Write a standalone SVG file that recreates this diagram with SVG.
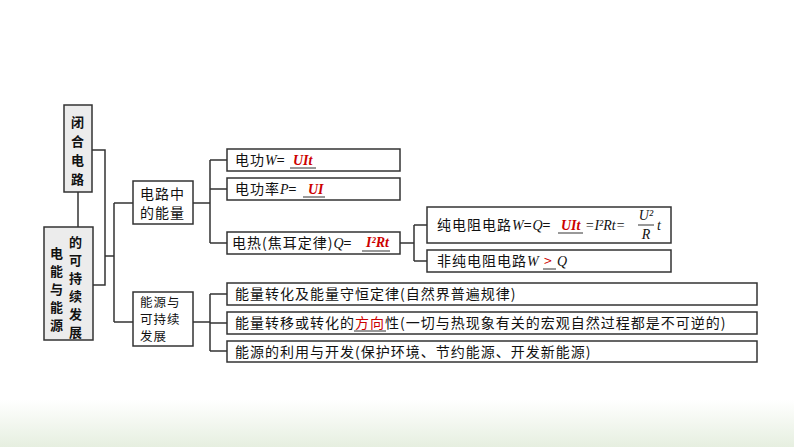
<svg xmlns="http://www.w3.org/2000/svg" width="794" height="447" viewBox="0 0 794 447">
<style>
.b{fill:#fff;stroke:#333;stroke-width:1.5}
.g{fill:#ececec;stroke:#333;stroke-width:1.5}
.l{fill:none;stroke:#333;stroke-width:1.5}
text{font-family:"Noto Sans CJK SC","Liberation Serif",serif;font-size:14px;fill:#111;letter-spacing:1px}
.v{font-size:13px;font-weight:bold}
.s{font-size:12.5px}
.m{font-family:"Liberation Serif",serif;font-style:italic;letter-spacing:0}
.r{fill:#c00;font-family:"Liberation Serif",serif;font-style:italic;font-weight:bold;letter-spacing:0}
.rc{fill:#c00}
.u{stroke:#333;stroke-width:1}
</style>
<defs><linearGradient id="bg" x1="0" y1="0" x2="0" y2="1"><stop offset="0" stop-color="#fff"/><stop offset="1" stop-color="#e6efe0"/></linearGradient></defs>
<rect x="0" y="400" width="794" height="47" fill="url(#bg)"/>
<g id="connectors">
<path class="l" d="M78 192V227M92 150H105V285H93M105 256H114M114 203V322M114 203H133M114 322H133"/>
<path class="l" d="M193 203H210M210 160V243M210 160H227M210 189H227M210 243H227"/>
<path class="l" d="M400 243H414M414 225V261M414 225H427M414 261H427"/>
<path class="l" d="M193 322H210M210 294V351M210 294H227M210 323H227M210 351H227"/>
</g>
<g id="n1"><rect class="g" x="64" y="105" width="28" height="87"/>
<text class="v" x="78" y="127" text-anchor="middle">闭</text><text class="v" x="78" y="146" text-anchor="middle">合</text><text class="v" x="78" y="165" text-anchor="middle">电</text><text class="v" x="78" y="184" text-anchor="middle">路</text></g>
<g id="n2"><rect class="g" x="44" y="227" width="49" height="113"/>
<text class="v" x="57" y="258" text-anchor="middle">电</text><text class="v" x="57" y="276" text-anchor="middle">能</text><text class="v" x="57" y="294" text-anchor="middle">与</text><text class="v" x="57" y="312" text-anchor="middle">能</text><text class="v" x="57" y="330" text-anchor="middle">源</text>
<text class="v" x="76" y="247" text-anchor="middle">的</text><text class="v" x="76" y="265" text-anchor="middle">可</text><text class="v" x="76" y="283" text-anchor="middle">持</text><text class="v" x="76" y="301" text-anchor="middle">续</text><text class="v" x="76" y="319" text-anchor="middle">发</text><text class="v" x="76" y="337" text-anchor="middle">展</text></g>
<g id="n3"><rect class="b" x="133" y="181" width="60" height="43"/><text x="140" y="199">电路中</text><text x="140" y="218">的能量</text></g>
<g id="n4"><rect class="b" x="133" y="292" width="60" height="54"/><text class="s" x="140" y="307">能源与</text><text class="s" x="140" y="324">可持续</text><text class="s" x="140" y="341">发展</text></g>
<g id="n5"><rect class="b" x="227" y="149" width="173" height="22"/><text x="235" y="165">电功<tspan class="m">W</tspan>=</text><text class="r" x="293" y="165">UIt</text><line class="u" x1="290" y1="168" x2="316" y2="168"/></g>
<g id="n6"><rect class="b" x="227" y="178" width="173" height="22"/><text x="235" y="194">电功率<tspan class="m">P</tspan>=</text><text class="r" x="308" y="194">UI</text><line class="u" x1="303" y1="197" x2="325" y2="197"/></g>
<g id="n7"><rect class="b" x="227" y="232" width="173" height="22"/><text x="232" y="248">电热(焦耳定律)<tspan class="m">Q</tspan>=</text><text class="r" x="366" y="247" font-size="11">I²Rt</text><line class="u" x1="362" y1="251" x2="390" y2="251"/></g>
<g id="n8"><rect class="b" x="427" y="207" width="244" height="36"/><text x="437" y="230">纯电阻电路<tspan class="m">W</tspan>=<tspan class="m">Q</tspan>=</text>
<text class="r" x="561" y="230" font-weight="normal">UIt</text><line class="u" x1="558" y1="233" x2="583" y2="233"/>
<text class="m" x="585" y="230">=I²Rt=</text>
<text class="m" x="646" y="220" text-anchor="middle" font-size="12">U²</text><line class="u" x1="638" y1="225" x2="654" y2="225"/><text class="m" x="646" y="239" text-anchor="middle" font-size="12">R</text><text class="m" x="657" y="230">t</text></g>
<g id="n9"><rect class="b" x="427" y="250" width="244" height="22"/><text x="437" y="266">非纯电阻电路<tspan class="m">W</tspan></text><text class="rc" x="544" y="266">&gt;</text><text class="m" x="557" y="266">Q</text><line class="u" x1="543" y1="269" x2="556" y2="269"/></g>
<g id="n10"><rect class="b" x="227" y="283" width="530" height="22"/><text x="235" y="299">能量转化及能量守恒定律(自然界普遍规律)</text></g>
<g id="n11"><rect class="b" x="227" y="312" width="530" height="22"/><text x="235" y="328">能量转移或转化的<tspan class="rc">方向</tspan>性(一切与热现象有关的宏观自然过程都是不可逆的)</text><line class="u" x1="354" y1="331" x2="386" y2="331"/></g>
<g id="n12"><rect class="b" x="227" y="341" width="530" height="21"/><text x="235" y="357">能源的利用与开发(保护环境、节约能源、开发新能源)</text></g>
</svg>
